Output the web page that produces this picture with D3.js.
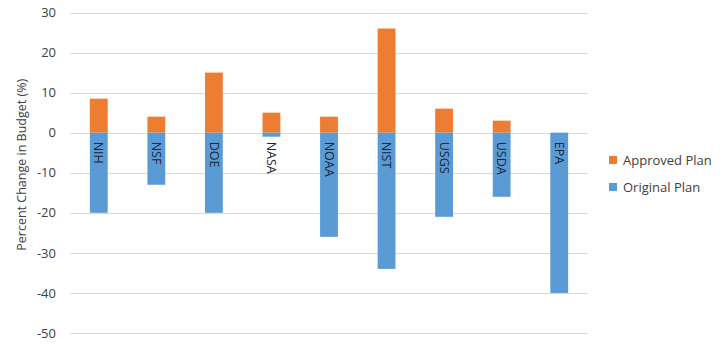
<!DOCTYPE html>
<html>
<head>
<meta charset="utf-8">
<script src="https://cdn.jsdelivr.net/npm/d3@7"></script>
<style>
  body { margin: 0; background: #fff; }
  svg { display: block; font-family: "Open Sans", sans-serif; }
</style>
</head>
<body>
<svg id="chart" width="722" height="346"></svg>
<script>
const categories = ["NIH", "NSF", "DOE", "NASA", "NOAA", "NIST", "USGS", "USDA", "EPA"];
const approvedPlan = [8.5, 4, 15, 5, 4, 26, 6, 3, 0];
const originalPlan = [-20, -13, -20, -1, -26, -34, -21, -16, -40];
const yTicks = [30, 20, 10, 0, -10, -20, -30, -40, -50];
const seriesNames = ["Approved Plan", "Original Plan"];
const colors = ["#ED7D31", "#5B9BD5"];

const svg = d3.select("#chart");
const margin = { left: 70, right: 134, top: 12.5, bottom: 13 };
const W = 722, H = 346;

const x = d3.scaleBand().domain(categories)
  .range([margin.left, W - margin.right]).paddingInner(0.69).paddingOuter(0.345);
const y = d3.scaleLinear().domain([-50, 30]).range([H - margin.bottom, margin.top]);

// gridlines
svg.append("g").selectAll("line").data(yTicks).join("line")
  .attr("x1", margin.left).attr("x2", W - margin.right)
  .attr("y1", d => Math.round(y(d)) + 0.5).attr("y2", d => Math.round(y(d)) + 0.5)
  .attr("stroke", "#d9d9d9").attr("stroke-width", 1);

// y axis labels
const yAxis = d3.axisLeft(y).tickValues(yTicks).tickSize(0).tickPadding(0)
  .tickFormat(d => String(d));
const ya = svg.append("g").attr("transform", `translate(${margin.left - 14},0)`).call(yAxis);
ya.select(".domain").remove();
ya.selectAll("text").attr("font-size", 13).attr("fill", "#404040")
  .attr("font-family", "Open Sans, sans-serif");

// bars
const bw = x.bandwidth();
svg.append("g").selectAll("rect").data(categories).join("rect")
  .attr("x", d => x(d)).attr("width", bw)
  .attr("y", (d, i) => y(approvedPlan[i]))
  .attr("height", (d, i) => y(0) - y(approvedPlan[i]))
  .attr("fill", colors[0]);
svg.append("g").selectAll("rect").data(categories).join("rect")
  .attr("x", d => x(d)).attr("width", bw)
  .attr("y", y(0))
  .attr("height", (d, i) => y(originalPlan[i]) - y(0))
  .attr("fill", colors[1]);

// category labels (rotated, next to zero axis)
const xAxis = d3.axisBottom(x).tickSize(0).tickPadding(0);
const xa = svg.append("g").attr("transform", `translate(0,${y(0)})`).call(xAxis);
xa.select(".domain").remove();
xa.selectAll("text")
  .attr("font-size", 12.5).attr("fill", "#1a2636")
  .attr("font-family", "Open Sans, sans-serif")
  .attr("transform", "translate(0,9) rotate(90)")
  .attr("x", 0).attr("y", 0).attr("dy", "0.35em")
  .attr("text-anchor", "start");

// y axis title
svg.append("text")
  .attr("transform", `translate(26,${(y(30) + y(-50)) / 2 - 8}) rotate(-90)`)
  .attr("text-anchor", "middle").attr("font-size", 12.5).attr("fill", "#404040")
  .text("Percent Change in Budget (%)");

// legend
const lg = svg.append("g");
seriesNames.forEach((name, i) => {
  const ly = 160 + i * 27;
  lg.append("rect").attr("x", 609).attr("y", ly - 4).attr("width", 8).attr("height", 8)
    .attr("fill", colors[i]);
  lg.append("text").attr("x", 623).attr("y", ly).attr("dy", "0.35em")
    .attr("font-size", 13).attr("fill", "#404040").text(name);
});
</script>
</body>
</html>
